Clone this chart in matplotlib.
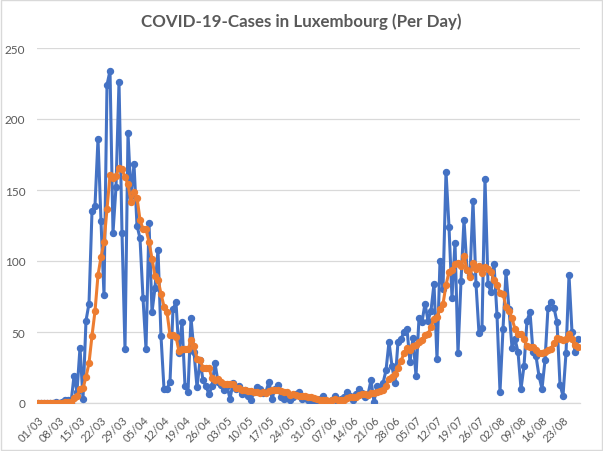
import matplotlib.pyplot as plt
from matplotlib.patches import Rectangle

# daily new cases, 01/03 .. 28/08
cases = [0, 0, 0, 0, 0, 0, 1, 0, 1, 2, 2, 0, 19, 8, 39, 3, 58, 70, 135, 139,
         186, 128, 76, 224, 234, 120, 152, 226, 120, 38, 190, 146, 168, 125, 116, 74, 38, 127, 64, 81,
         108, 47, 10, 10, 15, 66, 71, 35, 57, 12, 8, 60, 36, 11, 30, 16, 12, 6, 12, 28,
         15, 13, 9, 12, 3, 14, 10, 12, 6, 9, 5, 2, 8, 11, 10, 7, 8, 15, 3, 10,
         13, 4, 3, 6, 2, 4, 6, 8, 3, 4, 2, 1, 0, 2, 3, 5, 1, 0, 2, 5,
         1, 3, 4, 8, 5, 2, 6, 10, 7, 4, 6, 16, 1, 12, 11, 14, 23, 43, 26, 14,
         43, 45, 50, 52, 29, 46, 19, 60, 57, 70, 58, 65, 84, 31, 100, 80, 163, 124, 74, 113,
         35, 86, 129, 94, 90, 142, 84, 49, 53, 158, 84, 78, 98, 62, 8, 52, 92, 66, 39, 45,
         36, 10, 26, 58, 64, 36, 33, 19, 10, 30, 67, 71, 67, 57, 13, 5, 35, 90, 50, 36,
         45]

# 7-day average (orange line)
avg7 = [0, 0, 0, 0, 0, 0, 0.1, 0.1, 0.3, 0.6, 0.9, 0.9, 3.6, 4.6, 10.1, 10.4, 18.4, 28.1, 47.4, 64.6,
        90.0, 102.7, 113.1, 136.9, 160.3, 158.1, 160.0, 165.7, 164.6, 159.1, 154.3, 141.7, 148.6, 144.7, 129.0, 122.4, 122.4, 113.4, 101.7, 89.3,
        86.9, 77.0, 67.9, 63.9, 47.9, 48.1, 46.7, 36.3, 37.7, 38.0, 37.7, 44.1, 39.9, 31.3, 30.6, 24.7, 24.7, 24.4, 17.6, 16.4,
        17.0, 14.6, 13.6, 13.6, 13.1, 13.4, 10.9, 10.4, 9.4, 9.4, 8.4, 8.3, 7.4, 7.6, 7.3, 7.4, 7.3, 8.7, 8.9, 9.1,
        9.4, 8.6, 8.0, 7.7, 5.9, 6.0, 5.4, 4.7, 4.6, 4.7, 4.1, 4.0, 3.4, 2.9, 2.1, 2.4, 2.0, 1.7, 1.9, 2.6,
        2.4, 2.4, 2.3, 3.3, 4.0, 4.0, 4.1, 5.4, 6.0, 6.0, 5.7, 7.3, 7.1, 8.0, 8.1, 9.1, 11.9, 17.1, 18.6, 20.4,
        24.9, 29.7, 34.9, 39.0, 37.0, 39.9, 40.6, 43.0, 44.7, 47.6, 48.4, 53.6, 59.0, 60.7, 66.4, 69.7, 83.0, 92.4, 93.7, 97.9,
        98.4, 96.4, 103.4, 93.6, 88.7, 98.4, 94.3, 96.3, 91.6, 95.7, 94.3, 92.6, 86.3, 83.1, 77.3, 77.1, 67.7, 65.1, 59.6, 52.0,
        48.3, 48.6, 44.9, 40.0, 39.7, 39.3, 37.6, 35.1, 35.1, 35.7, 37.0, 38.0, 42.4, 45.9, 45.0, 44.3, 45.0, 48.3, 45.3, 40.9,
        39.1]

tick_labels = ['01/03', '08/03', '15/03', '22/03', '29/03', '05/04', '12/04', '19/04', '26/04',
               '03/05', '10/05', '17/05', '24/05', '31/05', '07/06', '14/06', '21/06', '28/06',
               '05/07', '12/07', '19/07', '26/07', '02/08', '09/08', '16/08', '23/08']

plt.rcParams['font.family'] = ['Lato', 'DejaVu Sans']
grey = '#595959'

fig = plt.figure(figsize=(6.03, 4.52), dpi=100)
ax = fig.add_axes([36.5 / 603, 48 / 452, 543 / 603, 355 / 452])

days = list(range(len(cases)))
ax.plot(days, cases, color='#4472C4', lw=2.2, marker='o', ms=4.3, zorder=3)
ax.plot(days, avg7, color='#ED7D31', lw=2.2, marker='o', ms=4.3, zorder=4)

ax.set_xlim(-0.5, len(cases) - 0.5)
ax.set_ylim(0, 250)
ax.set_yticks(range(0, 251, 50))
ax.set_xticks(range(0, len(cases), 7))
ax.set_xticklabels(tick_labels)
ax.tick_params(axis='both', length=0, labelcolor=grey)
ax.tick_params(axis='y', pad=8, labelsize=8.5)
ax.tick_params(axis='x', pad=8, labelsize=8)
plt.setp(ax.get_xticklabels(), rotation=45, ha='right', rotation_mode='anchor')

ax.grid(axis='y', color='#d9d9d9', lw=0.9)
ax.set_axisbelow(True)
for side in ['top', 'right', 'left']:
    ax.spines[side].set_visible(False)
ax.spines['bottom'].set_color('#d9d9d9')
ax.spines['bottom'].set_linewidth(0.9)

fig.text(0.5, 0.952, 'COVID-19-Cases in Luxembourg (Per Day)', ha='center', va='center',
         fontsize=12.2, fontweight='bold', color=grey)

fig.patches.append(Rectangle((0.001, 0.002), 0.997, 0.996, transform=fig.transFigure,
                             fill=False, edgecolor='#d9d9d9', lw=1))

fig.savefig('out.png', dpi=100)
